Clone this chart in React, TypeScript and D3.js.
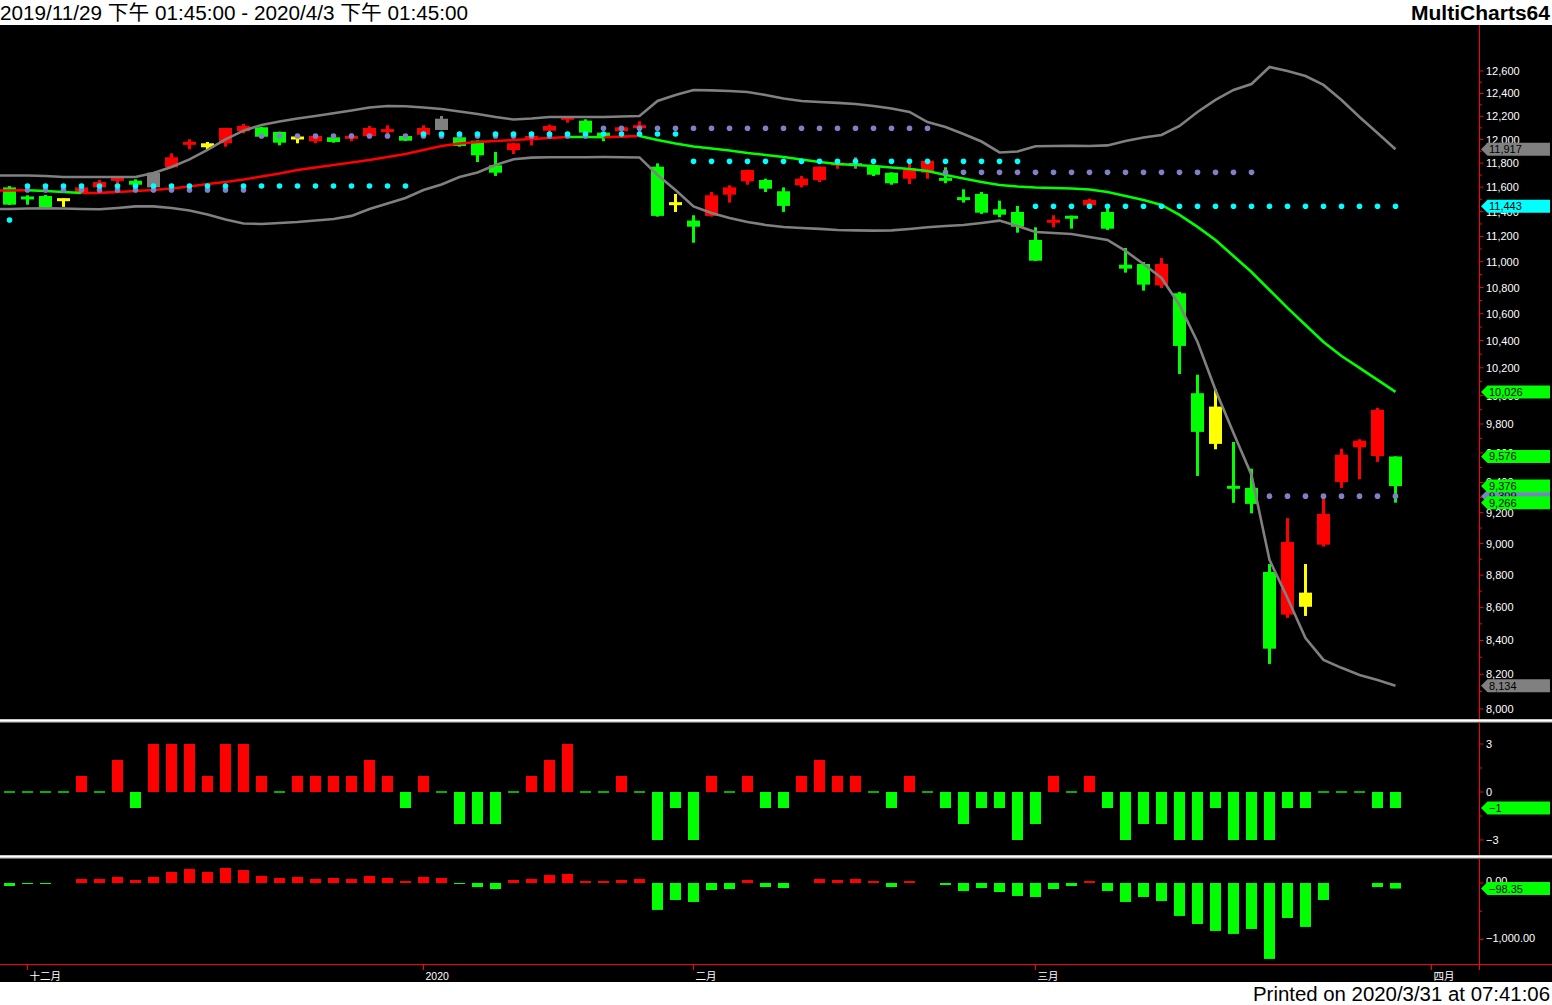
import React from "react";
import * as d3 from "d3";

// ---------- DATA ----------
const openP = [11598,11522,11527,11505,11560,11598,11653,11653,11598,11765,
11956,11968,11968,12071,12105,12065,12024,11985,12019,12007,
12030,12065,12030,12041,12082,12019,11990,11782,11911,12002,
12076,12174,12162,12059,12071,12105,11770,11473,11327,11365,
11538,11648,11659,11566,11615,11659,11782,11800,11770,11720,
11670,11720,11676,11517,11544,11419,11397,11172,11311,11365,
11451,11397,10977,10982,10817,10756,10017,9922,9377,9364,
8820,8556,8691,8993,9403,9639,9579,9576];
const highP = [11609,11533,11536,11507,11605,11659,11682,11665,11725,11883,
12002,11979,12099,12134,12108,12068,12030,12033,12021,12053,
12116,12122,12033,12122,12203,12021,11992,11894,11970,12060,
12128,12200,12174,12062,12110,12157,11798,11544,11370,11560,
11615,11744,11670,11598,11692,11772,11806,11849,11773,11723,
11793,11823,11765,11582,11560,11489,11446,11273,11370,11367,
11505,11424,11108,10998,11029,10766,10150,10045,9675,9493,
8870,9165,8870,9302,9629,9694,9913,9576];
const lowP = [11454,11456,11429,11438,11552,11598,11626,11618,11596,11759,
11917,11911,11939,12053,12022,11951,11968,11968,11973,11985,
12028,12030,11987,12039,12080,11939,11809,11693,11877,11950,
12065,12145,12057,11985,12068,12053,11359,11397,11150,11359,
11473,11620,11560,11397,11598,11642,11753,11753,11692,11620,
11626,11670,11632,11473,11381,11354,11230,11006,11273,11262,
11449,11252,10915,10776,10796,10155,9444,9625,9265,9196,
8261,8536,8548,8981,9364,9422,9539,9266];
const closeP = [11456,11500,11435,11489,11598,11642,11676,11620,11720,11849,
11979,11934,12099,12116,12024,11973,12002,12030,11979,12030,
12099,12088,11990,12099,12179,11945,11866,11720,11968,12030,
12116,12191,12059,12024,12105,12116,11365,11456,11278,11533,
11598,11742,11587,11446,11670,11770,11803,11776,11703,11632,
11759,11820,11653,11494,11391,11375,11278,11008,11332,11343,
11494,11262,10946,10822,10982,10360,9745,9662,9359,9258,
8351,9010,8604,9192,9588,9684,9899,9376];
// r = up, g = down, y = warning, s = neutral
const barSignal = ["g","g","g","y","r","r","r","g","s","r",
"r","y","r","r","g","g","y","r","g","r",
"r","r","g","r","s","g","g","g","r","r",
"r","r","g","g","r","r","g","y","g","r",
"r","r","g","g","r","r","r","s","g","g",
"r","r","g","g","g","g","g","g","r","g",
"r","g","g","g","r","g","g","y","g","g",
"g","r","y","r","r","r","r","g"];

const upperBand = [11697,11697,11692,11684,11684,11684,11684,11684,11717,11768,
11832,11911,12002,12076,12125,12155,12181,12203,12226,12251,
12277,12290,12288,12277,12264,12242,12220,12194,12172,12181,
12194,12194,12194,12194,12198,12203,12334,12387,12431,12427,
12422,12413,12387,12356,12334,12325,12317,12308,12290,12268,
12238,12150,12108,12047,11983,11890,11898,11943,11945,11946,
11945,11950,11987,12017,12039,12116,12238,12343,12431,12484,
12636,12600,12555,12476,12343,12194,12056,11917];
const lowerBand = [11421,11425,11427,11425,11421,11419,11429,11442,11442,11429,
11409,11377,11336,11304,11300,11308,11316,11328,11340,11365,
11421,11466,11511,11576,11622,11684,11722,11784,11832,11846,
11849,11850,11849,11851,11850,11848,11701,11576,11442,11389,
11348,11316,11292,11276,11268,11260,11251,11248,11246,11248,
11260,11273,11284,11292,11308,11327,11284,11235,11227,11219,
11195,11172,11085,10982,10874,10667,10389,10040,9738,9451,
8896,8658,8415,8285,8238,8196,8167,8134];
const midAvg = [11572,11574,11568,11560,11552,11553,11560,11568,11576,11589,
11605,11626,11642,11663,11688,11713,11742,11763,11784,11805,
11826,11852,11877,11911,11945,11966,11979,11987,11996,12004,
12013,12022,12021,12020,12025,12030,11996,11966,11940,11924,
11907,11886,11869,11852,11830,11809,11793,11784,11776,11763,
11751,11734,11701,11672,11642,11617,11605,11597,11593,11589,
11580,11560,11527,11494,11454,11373,11276,11172,11045,10920,
10781,10644,10516,10389,10286,10199,10112,10026];

// stepped dot levels: [fromBar, toBar, value]
const cyanLevels: [number, number, number][] = [[0,0,11332],[1,22,11609],[23,37,12047],[38,56,11815],[57,77,11443]];
const slateLevels: [number, number, number][] = [[1,13,11576],[14,32,12030],[33,51,12097],[52,69,11723],[70,77,9309]];

const osc1 = [0,0,0,0,1,0,2,-1,3,3,
3,1,3,3,1,0,1,1,1,1,
2,1,-1,1,0,-2,-2,-2,0,1,
2,3,0,0,1,0,-3,-1,-3,1,
0,1,-1,-1,1,2,1,1,0,-1,
1,0,-1,-2,-1,-1,-3,-2,1,0,
1,-1,-3,-2,-2,-3,-3,-1,-3,-3,
-3,-1,-1,0,0,0,-1,-1];
const osc2 = [-53,-12,-10,0,71,71,106,53,106,194,
247,194,265,229,124,88,106,71,88,71,
124,88,35,106,88,-10,-71,-106,53,71,
141,159,35,35,53,71,-476,-300,-335,-124,
-106,53,-71,-88,0,71,53,71,35,-71,
35,0,-35,-141,-88,-159,-229,-247,-106,-53,
35,-141,-335,-247,-318,-582,-724,-847,-900,-812,
-1341,-618,-776,-300,0,0,-71,-98.35];

const priceTicks = [8000,8200,8400,8600,8800,9000,9200,9400,9600,9800,10000,10200,10400,10600,10800,11000,11200,11400,11600,11800,12000,12200,12400,12600];
const osc1Ticks = [3, 0, -3];
const osc2Ticks = [0, -1000];
const monthLabels = ["十二月", "2020", "二月", "三月", "四月"];
const monthBars = [1, 23, 38, 57, 79];

const titleText = "2019/11/29 下午 01:45:00 - 2020/4/3 下午 01:45:00";
const brandText = "MultiCharts64";
const printedText = "Printed on 2020/3/31 at 07:41:06";

// ---------- STYLE ----------
const COL: Record<string, string> = { r: "#ff0000", g: "#00ff00", y: "#ffff00", s: "#808080" };
const RED = "#ff0000", GREEN = "#00ff00", GRAY = "#808080", CYAN = "#00ffff", SLATE = "#8080c8";
const FONT = "'Liberation Sans', Arial, 'Noto Sans CJK TC', sans-serif";

function Marker({ yy, bg, text }: { yy: number; bg: string; text: string }) {
  return (
    <g>
      <polygon points={`1481,${yy} 1487.5,${yy - 6.5} 1550,${yy - 6.5} 1550,${yy + 6.5} 1487.5,${yy + 6.5}`} fill={bg} />
      <text x={1489} y={yy + 4} fontSize={11} fill="#000" fontFamily={FONT}>{text}</text>
    </g>
  );
}

export default function App() {
  const N = openP.length;
  const x = d3.scaleLinear().domain([0, N - 1]).range([9.5, 1395.5]);
  const y = d3.scaleLog().domain([8000, 12600]).range([709, 71]);
  const y2 = d3.scaleLinear().domain([-3, 3]).range([840, 744]);
  const y3 = d3.scaleLinear().domain([-1000, 0]).range([939.6, 883]);
  const f0 = d3.format(",.0f");
  const f2 = d3.format(",.2f");
  const line = d3.line();

  const bandPath = (arr: number[]) =>
    line([[0, y(arr[0])] as [number, number], ...arr.map((v, i) => [x(i), y(v)] as [number, number])]) as string;

  const maRuns: { color: string; pts: [number, number][] }[] = [];
  let cur: { color: string; pts: [number, number][] } = { color: RED, pts: [[0, y(midAvg[0])], [x(0), y(midAvg[0])]] };
  for (let i = 1; i < N; i++) {
    const col = midAvg[i] >= midAvg[i - 1] ? RED : GREEN;
    if (col !== cur.color) {
      maRuns.push(cur);
      cur = { color: col, pts: [[x(i - 1), y(midAvg[i - 1])]] };
    }
    cur.pts.push([x(i), y(midAvg[i])]);
  }
  maRuns.push(cur);

  const dots = (levels: [number, number, number][], color: string) =>
    levels.flatMap(([a, b, v]) =>
      d3.range(a, b + 1).map((i) => <circle key={`${color}${i}`} cx={x(i)} cy={y(v)} r={2.8} fill={color} />)
    );

  const minorPrice = priceTicks.slice(0, -1).map((t, i) => (t + priceTicks[i + 1]) / 2);

  const last = N - 1;
  const markers = [
    { v: upperBand[last], bg: GRAY },
    { v: cyanLevels[cyanLevels.length - 1][2], bg: CYAN },
    { v: midAvg[last], bg: GREEN },
    { v: highP[last], bg: GREEN },
    { v: slateLevels[slateLevels.length - 1][2], bg: SLATE },
    { v: closeP[last], bg: GREEN },
    { v: lowP[last], bg: GREEN },
    { v: lowerBand[last], bg: GRAY },
  ];

  return (
    <svg width={1552} height={1005} style={{ position: "absolute", left: 0, top: 0, display: "block" }}>
      <defs>
        <clipPath id="plot"><rect x={0} y={25} width={1480} height={694} /></clipPath>
      </defs>
      <rect x={0} y={0} width={1552} height={1005} fill="#fff" />
      <rect x={0} y={25} width={1552} height={957} fill="#000" />

      {/* header */}
      <text x={0} y={20} fontSize={20} fontFamily={FONT} fill="#000" textLength={468} lengthAdjust="spacingAndGlyphs">{titleText}</text>
      <text x={1411} y={20} fontSize={20} fontWeight="bold" fontFamily={FONT} fill="#000" textLength={139} lengthAdjust="spacingAndGlyphs">{brandText}</text>

      {/* main price panel */}
      <g clipPath="url(#plot)">
        {openP.map((o, i) => {
          const c = closeP[i];
          const cx = x(i);
          const col = COL[barSignal[i]];
          const top = y(Math.max(o, c));
          const bot = y(Math.min(o, c));
          const h = Math.max(3, bot - top);
          const mid = (top + bot) / 2;
          return (
            <g key={i}>
              <rect x={cx - 1.5} y={y(highP[i])} width={3} height={y(lowP[i]) - y(highP[i])} fill={col} />
              <rect x={cx - 6.5} y={h > bot - top ? mid - h / 2 : top} width={13} height={h} fill={col} />
            </g>
          );
        })}
        <path d={bandPath(upperBand)} fill="none" stroke={GRAY} strokeWidth={2.6} />
        <path d={bandPath(lowerBand)} fill="none" stroke={GRAY} strokeWidth={2.6} />
        {maRuns.map((r, k) => (
          <path key={k} d={line(r.pts) as string} fill="none" stroke={r.color} strokeWidth={2.6} />
        ))}
        {dots(slateLevels, SLATE)}
        {dots(cyanLevels, CYAN)}
      </g>

      {/* separators */}
      <rect x={0} y={719} width={1552} height={3.5} fill="#c8c8c8" />
      <rect x={0} y={720} width={1552} height={1.2} fill="#ffffff" />
      <rect x={0} y={855} width={1552} height={3.5} fill="#c8c8c8" />
      <rect x={0} y={856} width={1552} height={1.2} fill="#ffffff" />

      {/* oscillator 1 */}
      {osc1.map((v, i) => {
        const cx = x(i);
        if (v === 0) return <rect key={i} x={cx - 5.5} y={791.3} width={11} height={1.4} fill={GREEN} />;
        const a = y2(v), b = y2(0);
        return <rect key={i} x={cx - 5.5} y={Math.min(a, b)} width={11} height={Math.abs(a - b)} fill={v > 0 ? RED : GREEN} />;
      })}

      {/* oscillator 2 */}
      {osc2.map((v, i) => {
        if (v === 0) return null;
        const cx = x(i);
        const a = y3(v), b = y3(0);
        return <rect key={i} x={cx - 5.5} y={Math.min(a, b)} width={11} height={Math.max(1, Math.abs(a - b))} fill={v > 0 ? RED : GREEN} />;
      })}

      {/* right axis */}
      <line x1={1479.5} x2={1479.5} y1={25} y2={719} stroke={RED} />
      <line x1={1479.5} x2={1479.5} y1={722.5} y2={855} stroke={RED} />
      <line x1={1479.5} x2={1479.5} y1={858.5} y2={970} stroke={RED} />
      {minorPrice.map((t) => (
        <line key={`m${t}`} x1={1480} x2={1482} y1={y(t)} y2={y(t)} stroke={RED} />
      ))}
      {priceTicks.map((t) => (
        <g key={t}>
          <line x1={1480} x2={1483.5} y1={y(t)} y2={y(t)} stroke={RED} />
          <text x={1486} y={y(t) + 4} fontSize={11} fill="#fff" fontFamily={FONT}>{f0(t)}</text>
        </g>
      ))}
      {[1.5, -1.5].map((t) => (
        <line key={`o1m${t}`} x1={1480} x2={1482} y1={y2(t)} y2={y2(t)} stroke={RED} />
      ))}
      {osc1Ticks.map((t) => (
        <g key={`o1${t}`}>
          <line x1={1480} x2={1483.5} y1={y2(t)} y2={y2(t)} stroke={RED} />
          <text x={1486} y={y2(t) + 4} fontSize={11} fill="#fff" fontFamily={FONT}>{f0(t)}</text>
        </g>
      ))}
      <line x1={1480} x2={1482} y1={y3(-500)} y2={y3(-500)} stroke={RED} />
      {osc2Ticks.map((t) => (
        <g key={`o2${t}`}>
          <line x1={1480} x2={1483.5} y1={y3(t)} y2={y3(t)} stroke={RED} />
          <text x={1486} y={y3(t) + 2} fontSize={11} fill="#fff" fontFamily={FONT}>{f2(t)}</text>
        </g>
      ))}

      {/* markers */}
      {markers.map((m, k) => (
        <Marker key={k} yy={y(m.v)} bg={m.bg} text={f0(m.v)} />
      ))}
      <Marker yy={y2(osc1[last])} bg={GREEN} text={f0(osc1[last])} />
      <Marker yy={y3(osc2[last])} bg={GREEN} text={f2(osc2[last])} />

      {/* x axis */}
      <line x1={0} x2={1552} y1={964.5} y2={964.5} stroke={RED} />
      {monthBars.map((b, k) => (
        <g key={k}>
          <line x1={x(b)} x2={x(b)} y1={965} y2={970} stroke={RED} />
          <text x={x(b) + 2} y={979.5} fontSize={10.5} fill="#fff" fontFamily={FONT}>{monthLabels[k]}</text>
        </g>
      ))}

      {/* footer */}
      <text x={1550} y={1001} fontSize={20} fontFamily={FONT} fill="#000" textAnchor="end" textLength={297} lengthAdjust="spacingAndGlyphs">{printedText}</text>
    </svg>
  );
}
